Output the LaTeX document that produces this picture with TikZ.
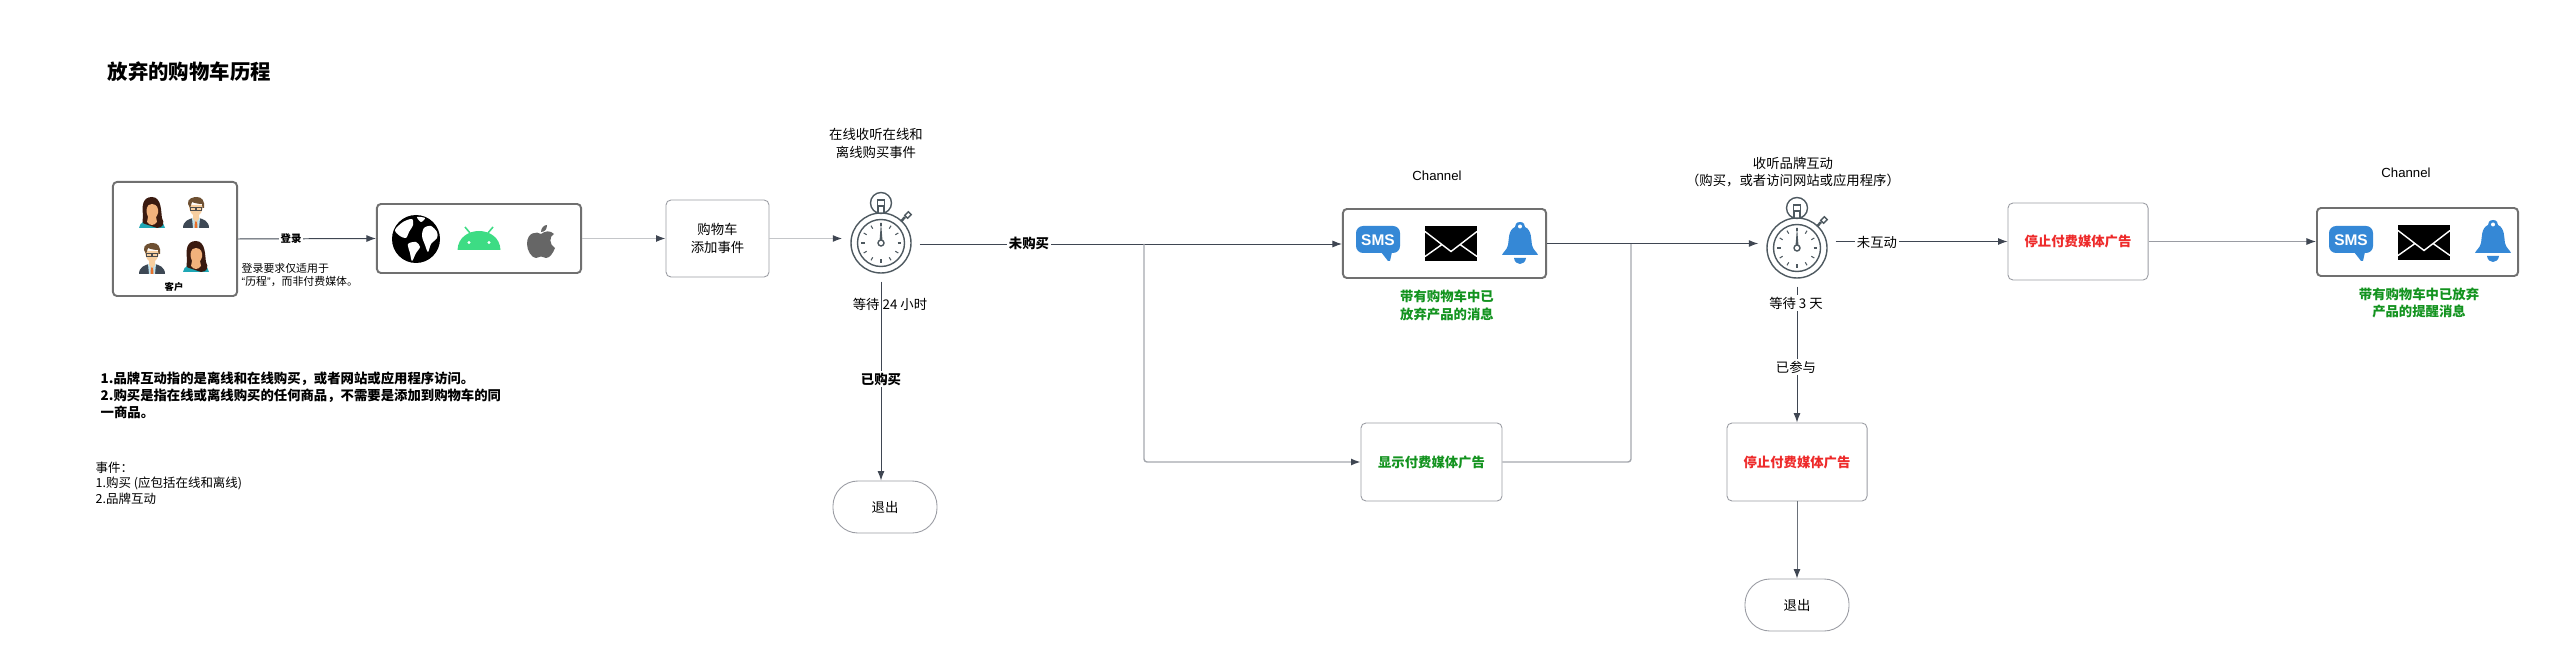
\documentclass[tikz,border=0pt]{standalone}
\usepackage{fontspec}
\setmainfont{Liberation Sans}
\newfontfamily\cjk{Noto Sans CJK SC}
\usepackage{xcolor}
\usetikzlibrary{arrows.meta,positioning,calc}

\definecolor{linedark}{HTML}{3F4652}
\definecolor{linemid}{HTML}{6A7079}
\definecolor{linegray}{HTML}{A4A7AD}
\definecolor{linepale}{HTML}{C4C6C9}
\definecolor{boxdark}{HTML}{707070}
\definecolor{boxpale}{HTML}{9A9CA3}
\definecolor{watchgray}{HTML}{4E5960}
\definecolor{iconblue}{HTML}{3588D6}
\definecolor{adgreen}{HTML}{13931F}
\definecolor{adred}{HTML}{EE2A2A}
\definecolor{droid}{HTML}{3DDC84}
\definecolor{hairdark}{HTML}{3A1A10}
\definecolor{skinwoman}{HTML}{F2B27C}
\definecolor{topteal}{HTML}{1EA7B5}
\definecolor{suitgray}{HTML}{3D4854}
\definecolor{shirtblue}{HTML}{BFE3EE}
\definecolor{tieorange}{HTML}{E8702A}
\definecolor{skinman}{HTML}{F7CFA0}
\definecolor{hairbrown}{HTML}{6E5032}

\tikzset{
  iconbox/.style={draw=boxdark, line width=0.55pt, rounded corners=0.04cm, fill=white},
  stepbox/.style={draw=boxpale, line width=0.25pt, rounded corners=0.05cm, fill=white, align=center,
    font=\fontsize{3.8}{5}\selectfont\cjk},
  exitbox/.style={draw=boxpale, line width=0.25pt, rounded corners=0.25cm, fill=white,
    minimum width=1.04cm, minimum height=0.52cm, inner sep=0pt, font=\fontsize{3.8}{5}\selectfont\cjk},
  adtxt/.style={font=\fontsize{3.8}{5}\selectfont\cjk\bfseries},
  watchspot/.style={circle, minimum size=0.76cm, inner sep=0pt},
  plaintxt/.style={inner sep=0pt, align=center, font=\fontsize{3.8}{4.9}\selectfont\cjk},
  boldtxt/.style={inner sep=0pt, align=center, font=\fontsize{3.8}{4.9}\selectfont\cjk\bfseries},
  smalltxt/.style={inner sep=0pt, align=left, font=\fontsize{3.1}{3.7}\selectfont\cjk},
  chantxt/.style={inner sep=0pt, font=\fontsize{3.75}{4.5}\selectfont},
  greentxt/.style={inner sep=0pt, align=center, text=adgreen, font=\fontsize{3.8}{4.9}\selectfont\cjk\bfseries},
  edgelbl/.style={fill=white, inner sep=0.5pt},
  arrowdark/.style={draw=linedark, line width=0.28pt, -{Latex[length=0.095cm,width=0.07cm,color=linedark]}},
  arrowmid/.style={draw=linemid, line width=0.28pt, -{Latex[length=0.095cm,width=0.07cm,color=linedark]}},
  arrowgray/.style={draw=linegray, line width=0.4pt, rounded corners=0.03cm, -{Latex[length=0.095cm,width=0.07cm,color=linedark]}},
  arrowpale/.style={draw=linepale, line width=0.35pt, -{Latex[length=0.095cm,width=0.07cm,color=linedark]}},
  % small pictures, in pixels round their centre
  womanicon/.pic={
    \fill[topteal] (-13,15) .. controls (-12,9) and (-7,7) .. (0,7) .. controls (7,7) and (12,9) .. (13,15) -- cycle;
    \fill[hairdark] (0,-16) .. controls (-10,-16) and (-10,-6) .. (-9,2) .. controls (-9,8) and (-11,10) .. (-7,11)
      -- (5,15) .. controls (11,15) and (13,10) .. (10,5) .. controls (9,0) and (10,-16) .. (0,-16) -- cycle;
    \fill[skinwoman] (0,-9) .. controls (-6,-9) and (-6,-2) .. (-5,1) .. controls (-4,5) and (-2,7) .. (0,7)
      .. controls (2,7) and (5,4) .. (6,0) .. controls (7,-4) and (5,-9) .. (0,-9) -- cycle;
    \fill[skinwoman] (-4,4) -- (4,4) -- (5,9) .. controls (2,13) and (-2,13) .. (-5,9) -- cycle;
  },
  manicon/.pic={
    \fill[suitgray] (-13,15) .. controls (-13,8) and (-7,6) .. (-3,5) -- (3,5) .. controls (7,6) and (13,8) .. (13,15)
      -- (3,15) -- (0,9) -- (-3,15) -- cycle;
    \fill[shirtblue] (-4,5) -- (4,5) -- (3,15) -- (-3,15) -- cycle;
    \fill[tieorange] (-1,7) -- (1,7) -- (1.5,15) -- (-1.5,15) -- cycle;
    \fill[skinman] (-3,1) -- (3,1) -- (3,6) -- (0,9) -- (-3,6) -- cycle;
    \fill[skinman] (-7,-8) .. controls (-7,-2) and (-4,3) .. (0,3) .. controls (4,3) and (7,-2) .. (7,-8) -- cycle;
    \fill[hairbrown] (-8,-9) .. controls (-9,-15) and (-2,-16) .. (1,-16) .. controls (6,-16) and (9,-12) .. (8,-5)
      -- (6.5,-5) -- (6,-9) .. controls (2,-9) and (-2,-10) .. (-4,-11) -- (-6,-5) -- cycle;
    \draw[black!70, line width=0.2pt] (-5.5,-6) rectangle (-0.8,-3) (0.8,-6) rectangle (5.5,-3) (-0.8,-5) -- (0.8,-5);
  },
  globeicon/.pic={
    \fill[black] (0,0) circle (24);
    \fill[white] plot[smooth cycle] coordinates {(-21,-9) (-13,-17) (-4,-20) (-3,-14) (-7,-7) (-10,-1) (-16,-3)};
    \fill[white] plot[smooth cycle] coordinates {(-8,5) (0,3) (4,8) (0,14) (-4,22) (-6,14)};
    \fill[white] plot[smooth cycle] coordinates {(8,-11) (15,-13) (21,-7) (21,-1) (15,5) (12,13) (9,6) (6,-3)};
    \fill[white] plot[smooth cycle] coordinates {(1,-22) (9,-21) (5,-17)};
  },
  droidicon/.pic={
    \fill[droid] (-21.5,10) .. controls (-21,-3) and (-10,-9) .. (0,-9) .. controls (10,-9) and (21,-3) .. (21.5,10) -- cycle;
    \draw[droid, line width=0.45pt] (-9,-7) -- (-14,-13) (9,-7) -- (14,-13);
    \fill[white] (-10,2.5) circle (1.6) (10,2.5) circle (1.6);
  },
  appleicon/.pic={
    \fill[black!60] (0,-7) .. controls (-4,-10) and (-14,-9) .. (-14,3) .. controls (-14,10) and (-9,17) .. (-5,17)
      .. controls (-3,17) and (-2,15.5) .. (0,15.5) .. controls (2,15.5) and (3,17) .. (5,17)
      .. controls (9,17) and (12,12) .. (14,7) .. controls (8,4) and (8,-5) .. (13,-7) .. controls (9,-11) and (4,-10) .. (0,-7) -- cycle;
    \fill[black!60] (0,-9) .. controls (0,-13) and (3,-16) .. (6,-16) .. controls (6,-12) and (4,-9) .. (0,-9) -- cycle;
  },
  smsicon/.pic={
    \fill[iconblue, rounded corners=0.07cm] (-22,-14) rectangle (22,13);
    \fill[iconblue] (3,12) -- (14,12) -- (12,21) -- (10,21) -- cycle;
    \node[inner sep=0pt, text=white, font=\fontsize{4.4}{5}\selectfont\bfseries] (-word) at (0,0) {SMS};
  },
  mailicon/.pic={
    \fill[black] (-26,-17.5) rectangle (26,17.5);
    \draw[white, line width=0.4pt] (-26,-12) -- (0,8) -- (26,-12) (-26,13) -- (-9,1) (26,13) -- (9,1);
  },
  bellicon/.pic={
    \fill[iconblue] (0,-21) .. controls (-4,-21) and (-5,-18) .. (-5,-16) .. controls (-12,-13) and (-11,-3) .. (-12,2)
      .. controls (-13,7) and (-17,9) .. (-18,12) -- (18,12) .. controls (17,9) and (13,7) .. (12,2)
      .. controls (11,-3) and (12,-13) .. (5,-16) .. controls (5,-18) and (4,-21) .. (0,-21) -- cycle;
    \fill[white] (0,-16.5) circle (2);
    \fill[iconblue] (-6,15) .. controls (-5,23) and (5,23) .. (6,15) -- cycle;
  },
  stopwatch/.pic={
    \draw[watchgray, line width=0.4pt] (0,0) circle (30) (0,0) circle (23.5) (0,-40) circle (10.5);
    \draw[watchgray, line width=0.4pt, fill=white] (-3.5,-43) rectangle (3.5,-37);
    \draw[watchgray, line width=0.4pt] (-3,-37) -- (-3,-29.8) (3,-37) -- (3,-29.8);
    \draw[watchgray, line width=0.7pt] (20,-21.5) -- (24,-26);
    \draw[watchgray, line width=0.4pt, rotate around={45:(27,-28)}] (24.5,-30) rectangle (29.5,-26);
    \foreach \a in {0,30,...,330} {
      \draw[watchgray, line width=0.3pt] (\a:16.5) -- (\a:20);
    }
    \fill[watchgray] (-1.6,-1) -- (0,-21) -- (1.6,-1) -- cycle;
    \draw[watchgray, line width=0.4pt, fill=white] (0,0) circle (3);
  },
}

\begin{document}
\begin{tikzpicture}[x=0.01cm,y=-0.01cm]
  \useasboundingbox (0,0) rectangle (2560,667);

  % Title and notes
  \node[inner sep=0pt, anchor=west, font=\fontsize{5.8}{7}\selectfont\cjk\bfseries] (title) at (107,72) {放弃的购物车历程};
  \node[boldtxt, anchor=north west, align=left] (rules) at (100,371) {1.品牌互动指的是离线和在线购买，或者网站或应用程序访问。\\2.购买是指在线或离线购买的任何商品，不需要是添加到购物车的同\\一商品。};
  \node[plaintxt, anchor=north west, align=left, font=\fontsize{3.55}{4.4}\selectfont\cjk] (events) at (95,461) {事件：\\1.购买 (应包括在线和离线)\\2.品牌互动};

  % Boxes
  \node[iconbox, minimum width=1.24cm, minimum height=1.14cm] (cust) at (175,239) {};
  \node[iconbox, minimum width=2.04cm, minimum height=0.69cm] (app) at (479,238.5) {};
  \node[stepbox, minimum width=1.03cm, minimum height=0.77cm] (cart) at (717.5,238.5) {购物车\\添加事件};
  \node[watchspot] (watch1) at (881,243) {};
  \node[exitbox] (exit1) at (885,507) {退出};
  \node[iconbox, minimum width=2.03cm, minimum height=0.69cm] (chan1) at (1444.5,243.5) {};
  \node[stepbox, adtxt, minimum width=1.41cm, minimum height=0.78cm, text=adgreen] (showad) at (1431.5,462) {显示付费媒体广告};
  \node[watchspot] (watch2) at (1797,248) {};
  \node[stepbox, adtxt, minimum width=1.40cm, minimum height=0.78cm, text=adred] (stopad2) at (1797,462) {停止付费媒体广告};
  \node[exitbox] (exit2) at (1797,605) {退出};
  \node[stepbox, adtxt, minimum width=1.40cm, minimum height=0.77cm, text=adred] (stopad1) at (2078,241.5) {停止付费媒体广告};
  \node[iconbox, minimum width=2.01cm, minimum height=0.68cm] (chan2) at (2417.5,242) {};
  \coordinate (split) at (1144,244);
  \coordinate (merge) at (1631,244);

  % Connectors
  \draw[arrowdark] (cust.east) -- (app.west);
  \draw[arrowpale] (app.east) -- (cart.west);
  \draw[arrowpale] (cart.east) -- (cart.east -| watch1.west);
  \draw[draw=linedark, line width=0.28pt] (watch1.east |- split) -- (split);
  \draw[arrowdark] (split) -- (split -| chan1.west);
  \draw[arrowgray] (split) |- (showad.west);
  \draw[draw=linegray, line width=0.4pt, rounded corners=0.03cm] (showad.east) -| (merge);
  \draw[arrowdark] (chan1.east) -- (chan1.east -| watch2.west);
  \draw[arrowdark] (watch1.south) -- (watch1.south |- exit1.north);
  \draw[arrowdark] (watch2.south) -- (stopad2.north);
  \draw[arrowmid] (stopad2.south) -- (exit2.north);
  \draw[arrowdark] (watch2.east |- stopad1.west) -- (stopad1.west);
  \draw[arrowdark, draw=boxpale] (stopad1.east) -- (stopad1.east -| chan2.west);

  % Customers
  \pic (ppl1) at (152,213) {womanicon};
  \pic (ppl2) at (196,213) {manicon};
  \pic (ppl3) at (152,259) {manicon};
  \pic (ppl4) at (196,257) {womanicon};
  \node[boldtxt, font=\fontsize{2.65}{3}\selectfont\cjk\bfseries] (custname) at (174,287) {客户};

  % Apps
  \pic (web) at (416,239) {globeicon};
  \pic (android) at (479,240) {droidicon};
  \pic (apple) at (541,241) {appleicon};

  % First channel group
  \pic (sms1) at (1378,240) {smsicon};
  \pic (mail1) at (1451,243.5) {mailicon};
  \pic (bell1) at (1520,243) {bellicon};
  % Second channel group
  \pic (sms2) at (2351,240) {smsicon};
  \pic (mail2) at (2424,242.5) {mailicon};
  \pic (bell2) at (2493,241) {bellicon};

  % Stopwatches
  \pic (clock1) at (881,243) {stopwatch};
  \pic (clock2) at (1797,248) {stopwatch};

  % Edge labels
  \node[boldtxt, edgelbl, font=\fontsize{2.95}{3.5}\selectfont\cjk\bfseries] (loginlbl) at (291,239) {登录};
  \node[smalltxt, anchor=north west] (loginnote) at (241,262.5) {登录要求仅适用于\\{\rmfamily “}历程{\rmfamily ”}，而非付费媒体。};
  \node[boldtxt, edgelbl] (nobuy) at (1029,243) {未购买};
  \node[boldtxt, edgelbl] (bought) at (881,379) {已购买};
  \node[plaintxt, edgelbl] (noact) at (1877,242) {未互动};
  \node[plaintxt, edgelbl] (joined) at (1796,367) {已参与};

  % Texts round the stopwatches
  \node[plaintxt] (listen1) at (876,143.5) {在线收听在线和\\离线购买事件};
  \node[plaintxt] (wait1) at (890,304) {等待 24 小时};
  \node[plaintxt] (listen2) at (1793,172) {收听品牌互动\\（购买，或者访问网站或应用程序）};
  \node[plaintxt, edgelbl] (wait2) at (1796,303) {等待 3 天};

  % Texts round the channels
  \node[chantxt] (chanlbl1) at (1437,176) {Channel};
  \node[greentxt] (msg1) at (1447,305.5) {带有购物车中已\\放弃产品的消息};
  \node[chantxt] (chanlbl2) at (2406,173) {Channel};
  \node[greentxt] (msg2) at (2419,303) {带有购物车中已放弃\\产品的提醒消息};
\end{tikzpicture}
\end{document}
